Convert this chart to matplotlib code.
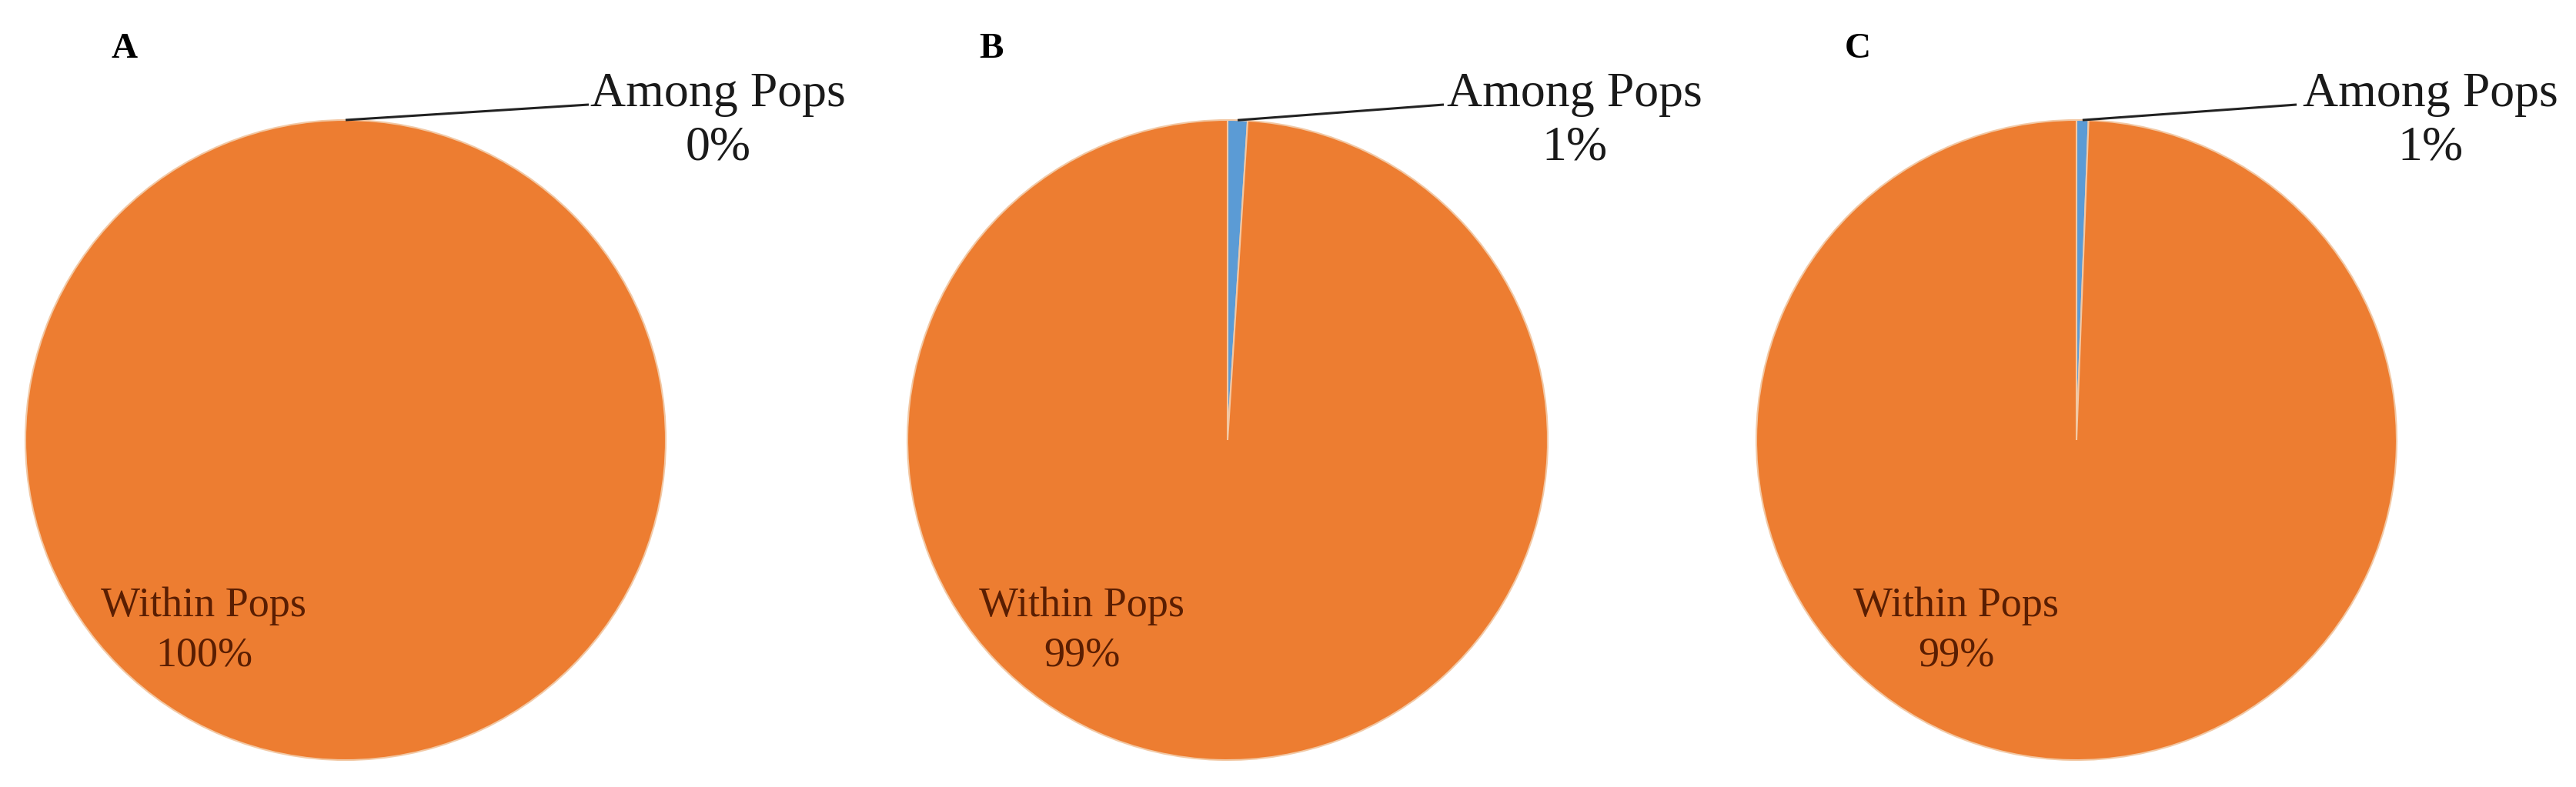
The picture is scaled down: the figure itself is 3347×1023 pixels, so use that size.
import numpy as np
import matplotlib
matplotlib.use("Agg")
import matplotlib.pyplot as plt

plt.rcParams['font.family'] = ['Liberation Serif', 'DejaVu Serif']

# AMOVA partitions for the three panels
panels = ["A", "B", "C"]
categories = ["Among Pops", "Within Pops"]
among_pct = [0.0, 1.0, 0.6]
within_pct = [100.0, 99.0, 99.4]
among_labels = ["0%", "1%", "1%"]
within_labels = ["100%", "99%", "99%"]

colors = ["#5B9BD5", "#ED7D31"]

W, H = 3348, 1023
fig = plt.figure(figsize=(W / 100, H / 100), dpi=100)
ax = fig.add_axes([0, 0, 1, 1])

# layout in pixels (y from top)
centers = [(449, 572), (1595, 572), (2698, 572)]
radius = 416
letter_pos = [(162, 64), (1288, 64), (2414, 64)]
among_text_x = [933, 2046, 3158]
among_line_end = [(765, 136), (1876, 136), (2984, 136)]
within_text_x = [265, 1406, 2542]

def fy(y):
    return H - y

for i in range(3):
    cx, cy = centers[i]
    vals = [among_pct[i], within_pct[i]]
    wedges, _ = ax.pie(vals, colors=colors, startangle=90, counterclock=False,
                       center=(cx, fy(cy)), radius=radius,
                       wedgeprops=dict(edgecolor="#f2c8a4", linewidth=1.5))
    # leader line from middle of the among slice
    theta = np.deg2rad(90 - among_pct[i] / 100 * 360 / 2)
    x0 = cx + radius * np.cos(theta)
    y0 = fy(cy) + radius * np.sin(theta)
    ex, ey = among_line_end[i]
    ax.plot([x0, ex], [y0, fy(ey)], color="#222222", lw=2.2, solid_capstyle="butt")

    ax.text(among_text_x[i], fy(138), categories[0], ha="center", va="baseline",
            fontsize=46, color="#1a1a1a")
    ax.text(among_text_x[i], fy(192), among_labels[i], ha="center", va="center",
            fontsize=46, color="#1a1a1a")

    ax.text(within_text_x[i], fy(788), categories[1], ha="center", va="center",
            fontsize=39, color="#5a1e02")
    ax.text(within_text_x[i], fy(852), within_labels[i], ha="center", va="center",
            fontsize=39, color="#5a1e02")

    lx, ly = letter_pos[i]
    ax.text(lx, fy(ly), panels[i], ha="center", va="center", fontsize=34,
            fontweight="bold", color="black")

ax.set_xlim(0, W)
ax.set_ylim(0, H)
ax.set_aspect("equal")
ax.axis("off")

fig.savefig("out.png", dpi=100, facecolor="white")
